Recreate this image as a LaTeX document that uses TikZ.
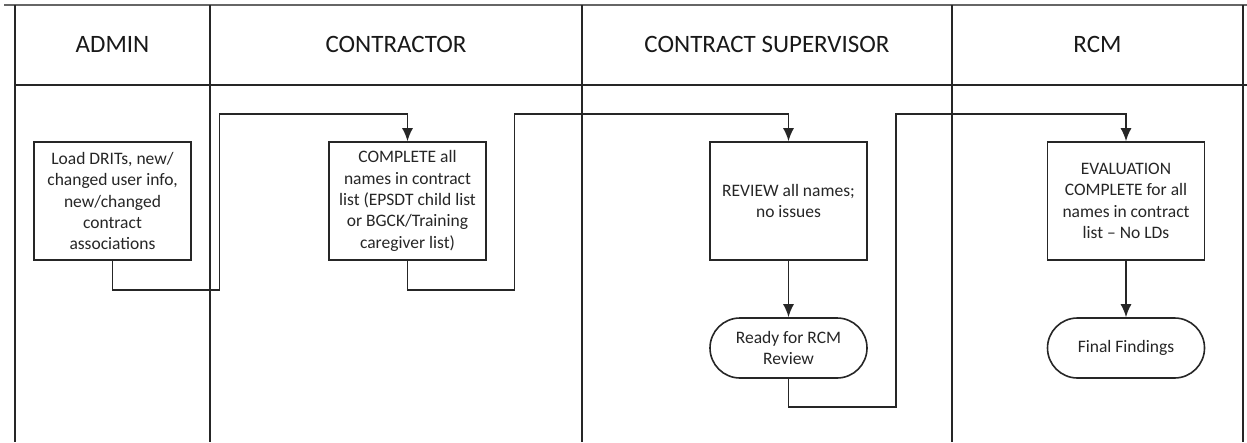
\documentclass[tikz,border=0pt]{standalone}
\usepackage{fontspec}
\setmainfont{Carlito}
\usetikzlibrary{arrows.meta}

\tikzset{
    lane/.style={black!85, line width=1.6pt},
    lanehead/.style={anchor=base, text=black!90, font=\fontsize{25}{30}\selectfont},
    procbox/.style={draw=black!85, line width=1.6pt, minimum width=157pt, minimum height=118pt,
        inner sep=0pt, align=center, text=black!85, font=\fontsize{17.5}{21.3}\selectfont},
    termbox/.style={procbox, minimum height=60pt, rounded corners=30pt},
    flow/.style={black!85, line width=1.6pt, -{Latex[length=13pt,width=11pt]}}
}

\begin{document}
\begin{tikzpicture}[x=1pt, y=-1pt]

    \useasboundingbox (0,0) rectangle (1247,442);
    \fill[white] (0,0) rectangle (1247,442);

    %Rahmen und Bahnen
    \draw[black!60, line width=2pt](4,5)--(1247,5);
    \draw[lane](15,85)--(1247,85);
    \foreach \x in {15,210,582,952,1243}
        \draw[lane](\x,5)--(\x,442);

    %Kopfzeile
    \node[lanehead] (hadmin) at (112.5,52) {ADMIN};
    \node[lanehead] (hcontractor) at (396,52) {CONTRACTOR};
    \node[lanehead] (hsupervisor) at (767,52) {CONTRACT SUPERVISOR};
    \node[lanehead] (hrcm) at (1097.5,52) {RCM};

    %Schritte
    \node[procbox] (load) at (112.5,201) {Load DRITs, new/\\changed user info,\\new/changed\\contract\\associations};
    \node[procbox] (complete) at (407.5,201) {COMPLETE all\\names in contract\\list (EPSDT child list\\or BGCK/Training\\caregiver list)};
    \node[procbox] (review) at (788.5,201) {REVIEW all names;\\no issues};
    \node[termbox] (ready) at (788.5,348) {Ready for RCM\\Review};
    \node[procbox] (evaluation) at (1126,201) {EVALUATION\\COMPLETE for all\\names in contract\\list -- No LDs};
    \node[termbox] (final) at (1126,348) {Final Findings};

    %Verbindungen
    \draw[flow](load.south)--++(0,29)-|++(107,-176)-|(complete.north);
    \draw[flow](complete.south)--++(0,29)-|++(107,-176)-|(review.north);
    \draw[flow](review)--(ready);
    \draw[flow](ready.south)--++(0,28)-|++(107.5,-293)-|(evaluation.north);
    \draw[flow](evaluation)--(final);

\end{tikzpicture}
\end{document}
